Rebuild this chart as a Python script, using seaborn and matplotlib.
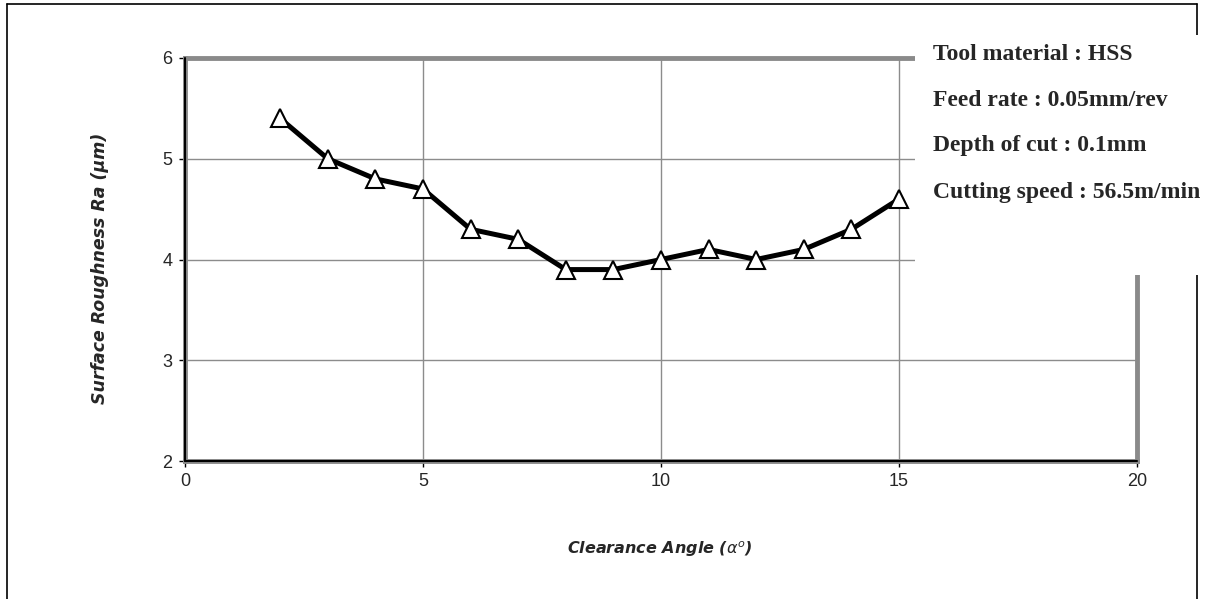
import matplotlib
matplotlib.use("Agg")
import matplotlib.pyplot as plt
from matplotlib.patches import Rectangle
from matplotlib.lines import Line2D
import seaborn as sns
import pandas as pd

# Surface roughness vs clearance angle
clearance_angle = [2, 3, 4, 5, 6, 7, 8, 9, 10, 11, 12, 13, 14, 15]
roughness_ra = [5.4, 5.0, 4.8, 4.7, 4.3, 4.2, 3.9, 3.9, 4.0, 4.1, 4.0, 4.1, 4.3, 4.6]
x_ticks = [0, 5, 10, 15, 20]
y_ticks = [2, 3, 4, 5, 6]
conditions = [
    "Tool material : HSS",
    "Feed rate : 0.05mm/rev",
    "Depth of cut : 0.1mm",
    "Cutting speed : 56.5m/min",
]

sns.set_style("white")
plt.rcParams["font.family"] = ["Liberation Sans", "DejaVu Sans"]

W, H = 1215, 599
fig = plt.figure(figsize=(W / 100, H / 100), dpi=100)
ax = fig.add_axes([185 / W, 1 - 461 / H, (1137 - 185) / W, (461 - 58) / H])

df = pd.DataFrame({"angle": clearance_angle, "ra": roughness_ra})
sns.lineplot(data=df, x="angle", y="ra", ax=ax, color="black", linewidth=3.6,
             marker="^", markersize=13, markerfacecolor="white",
             markeredgecolor="black", markeredgewidth=1.5, zorder=5)

ax.set_xlim(0, 20)
ax.set_ylim(2, 6)
ax.set_xticks(x_ticks)
ax.set_yticks(y_ticks)
ax.set_xticklabels([str(v) for v in x_ticks], fontsize=13)
ax.set_yticklabels([str(v) for v in y_ticks], fontsize=13)
ax.grid(True, color="#8c8c8c", linewidth=1.0)
ax.set_axisbelow(True)
ax.tick_params(axis="both", direction="out", length=4, width=1, color="black",
               bottom=True, left=True, pad=5)

for side in ["top", "right", "left", "bottom"]:
    ax.spines[side].set_visible(True)
    ax.spines[side].set_color("#8a8a8a")
    ax.spines[side].set_linewidth(3.5)
# axis lines
ax.axhline(2, color="black", linewidth=1.5, zorder=6, clip_on=False)
ax.axvline(0, color="black", linewidth=1.5, zorder=6, clip_on=False)

ax.set_xlabel("")
ax.set_ylabel("")
fig.text(100 / W, 1 - 268 / H, "Surface Roughness Ra (μm)", rotation=90,
         ha="center", va="center", fontsize=12.5, fontweight="bold",
         fontstyle="italic", family="DejaVu Sans")
fig.text(660 / W, 1 - 549 / H, r"Clearance Angle ($\alpha^{o}$)",
         ha="center", va="center", fontsize=11.5, fontweight="bold",
         fontstyle="italic", family="DejaVu Sans")

# chart area border
border = dict(color="black", linewidth=1.2, transform=fig.transFigure, zorder=1)
fig.add_artist(Line2D([7 / W, 7 / W], [0, 1 - 4 / H], **border))
fig.add_artist(Line2D([7 / W, 1197 / W], [1 - 4 / H, 1 - 4 / H], **border))
fig.add_artist(Line2D([1197 / W, 1197 / W], [0, 1 - 4 / H], **border))

# text box with cutting conditions
fig.add_artist(Rectangle((915 / W, 1 - 275 / H), (W - 915) / W, (275 - 35) / H,
                         transform=fig.transFigure, facecolor="white",
                         edgecolor="none", zorder=10))
for i, line in enumerate(conditions):
    fig.text(933 / W, 1 - (54 + 46 * i) / H, line, ha="left", va="center",
             fontsize=17, fontweight="bold", family="Liberation Serif",
             zorder=11)

fig.savefig("out.png", dpi=100, facecolor="white")
